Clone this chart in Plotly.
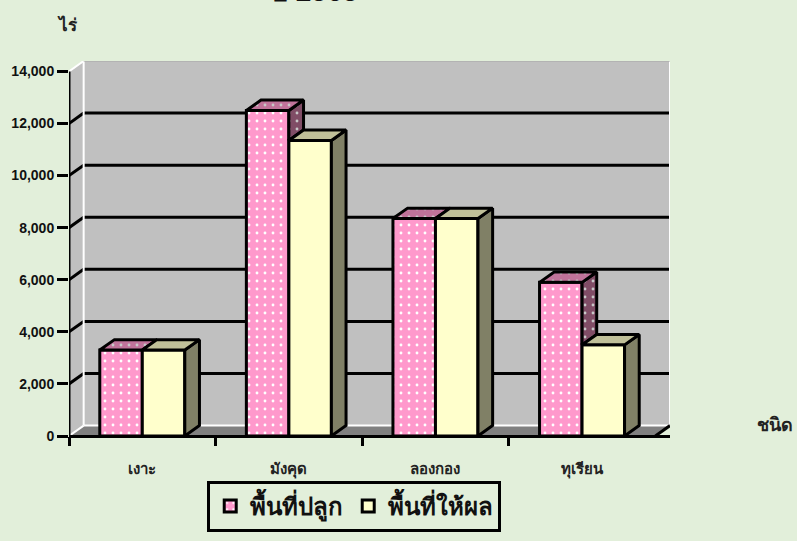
import plotly.graph_objects as go

categories = ["เงาะ", "มังคุด", "ลองกอง", "ทุเรียน"]
planted = [3300, 12500, 8350, 5900]
bearing = [3300, 11350, 8350, 3500]
tick_values = [0, 2000, 4000, 6000, 8000, 10000, 12000, 14000]
tick_labels = ["0", "2,000", "4,000", "6,000", "8,000", "10,000", "12,000", "14,000"]

BG = "#E2EFDA"
WALL = "#C0C0C0"
FLOOR = "#808080"
PINK = "#FF99CC"
PINK_TOP = "#C0739A"
PINK_SIDE = "#804D66"
YEL = "#FFFFCC"
YEL_TOP = "#C0C099"
YEL_SIDE = "#808066"
BLACK = "#000000"
FONT = "Liberation Sans, Noto Sans, DejaVu Sans, sans-serif"

DX, DY = 0.1, 400      # oblique depth, in data units
BW = 0.29
n = len(categories)
XMAX = n + DX
YMAX = tick_values[-1] + DY
centers = [i + 0.5 for i in range(n)]

fig = go.Figure()
dots = dict(shape=".", size=8, solidity=0.1, fgcolor="#FFFFFF", fgopacity=1)

fig.add_trace(go.Bar(x=centers, y=planted, name="พื้นที่ปลูก", width=BW, offset=-BW,
                     marker=dict(color=PINK, line=dict(color=BLACK, width=3),
                                 pattern=dict(bgcolor=PINK, **dots))))
fig.add_trace(go.Bar(x=centers, y=bearing, name="พื้นที่ให้ผล", width=BW, offset=0,
                     marker=dict(color=YEL, line=dict(color=BLACK, width=3))))


def poly(xs, ys, color, pattern=None):
    kw = {}
    if pattern:
        kw["fillpattern"] = dict(bgcolor=color, **pattern)
    fig.add_trace(go.Scatter(x=xs + xs[:1], y=ys + ys[:1], mode="lines", fill="toself",
                             fillcolor=color, line=dict(color=BLACK, width=3),
                             hoverinfo="skip", showlegend=False, **kw))


faded = dict(shape=".", size=8, solidity=0.1, fgcolor="#C8C8C8", fgopacity=1)
for c, p, b in zip(centers, planted, bearing):
    l, m, r = c - BW, c, c + BW
    if p > b:  # visible part of the pink side, above the neighbouring bar
        poly([m, m + DX, m + DX, m], [b, b + DY, p + DY, p], PINK_SIDE, faded)
    poly([l, l + DX, m + DX, m], [p, p + DY, p + DY, p], PINK_TOP, faded)
    poly([r, r + DX, r + DX, r], [0, DY, b + DY, b], YEL_SIDE)
    poly([m, m + DX, r + DX, r], [b, b + DY, b + DY, b], YEL_TOP)

# left axis line
fig.add_trace(go.Scatter(x=[0, 0], y=[0, tick_values[-1]], mode="lines",
                         line=dict(color=BLACK, width=3), hoverinfo="skip",
                         showlegend=False, cliponaxis=False))

shapes = [
    dict(type="rect", x0=DX, x1=XMAX, y0=DY, y1=YMAX, fillcolor=WALL,
         line=dict(width=0), layer="below"),
    dict(type="path", path=f"M0,0 L{DX},{DY} L{DX},{YMAX} L0,{tick_values[-1]} Z",
         fillcolor=WALL, line=dict(width=0), layer="below"),
    dict(type="path", path=f"M0,0 L{DX},{DY} L{XMAX},{DY} L{n},0 Z",
         fillcolor=FLOOR, line=dict(width=0), layer="below"),
]
for v in tick_values[1:-1]:
    shapes.append(dict(type="line", x0=0, x1=DX, y0=v, y1=v + DY,
                       line=dict(color=BLACK, width=3), layer="below"))
    shapes.append(dict(type="line", x0=DX, x1=XMAX, y0=v + DY, y1=v + DY,
                       line=dict(color=BLACK, width=3), layer="below"))
white = dict(color="#FFFFFF", width=2)
shapes += [
    dict(type="line", x0=DX, x1=DX, y0=DY, y1=YMAX, line=white, layer="below"),
    dict(type="line", x0=DX, x1=XMAX, y0=DY, y1=DY, line=white, layer="below"),
    dict(type="line", x0=XMAX, x1=XMAX, y0=DY, y1=YMAX, line=white, layer="below"),
    dict(type="line", x0=0, x1=DX, y0=0, y1=DY, line=white, layer="below"),
    dict(type="line", x0=0, x1=DX, y0=tick_values[-1], y1=YMAX, line=white, layer="below"),
    dict(type="line", x0=DX, x1=XMAX, y0=YMAX, y1=YMAX,
         line=dict(color="#A6A6A6", width=1), layer="below"),
    dict(type="line", x0=n, x1=XMAX, y0=0, y1=DY,
         line=dict(color=BLACK, width=3), layer="below"),
]

annotations = [
    dict(text="<b>ไร่</b>", xref="paper", yref="paper", x=-0.002, y=1.095, xanchor="center",
         yanchor="middle", showarrow=False, font=dict(size=17, color="#222222", family=FONT)),
    dict(text="<b>ชนิด</b>", xref="paper", yref="paper", x=1.175, y=0.03, xanchor="center",
         yanchor="middle", showarrow=False, font=dict(size=18, color="#222222", family=FONT)),
    dict(text="<b>ปี 2565</b>", xref="paper", yref="paper", x=0.406, y=1.139, xanchor="center",
         yanchor="bottom", showarrow=False, font=dict(size=28, color="#111111", family=FONT)),
]

fig.update_layout(
    width=797, height=541,
    margin=dict(l=69, r=127, t=61, b=105, autoexpand=False),
    paper_bgcolor=BG, plot_bgcolor=BG,
    barmode="overlay",
    showlegend=True,
    legend=dict(orientation="h", x=0.23, y=-0.12, xanchor="left", yanchor="top",
                bgcolor=BG, bordercolor=BLACK, borderwidth=3,
                font=dict(size=24, color="#111111", family=FONT, weight="bold"), itemclick=False),
    xaxis=dict(range=[0, XMAX], tickmode="array", tickvals=centers, ticktext=categories,
               ticks="", ticklabelstandoff=22, showgrid=False, zeroline=False,
               showline=False, tickfont=dict(size=15, color="#222222", family=FONT, weight="bold"),
               minor=dict(tickmode="array", tickvals=[0, 1, 2, 3], ticks="outside", ticklen=9,
                          tickwidth=3, tickcolor=BLACK, showgrid=False)),
    yaxis=dict(range=[0, YMAX], tickmode="array", tickvals=tick_values, ticktext=tick_labels,
               ticks="outside", ticklen=11, tickwidth=3, tickcolor=BLACK,
               showgrid=False, zeroline=True, zerolinecolor=BLACK, zerolinewidth=3,
               showline=False, tickfont=dict(size=14, color="#111111", family="Liberation Sans", weight="bold")),
    shapes=shapes,
    annotations=annotations,
)
fig.write_html("out.html", config={"displayModeBar": False},
               post_script="document.body.style.margin='0';document.body.style.background='" + BG + "';")
